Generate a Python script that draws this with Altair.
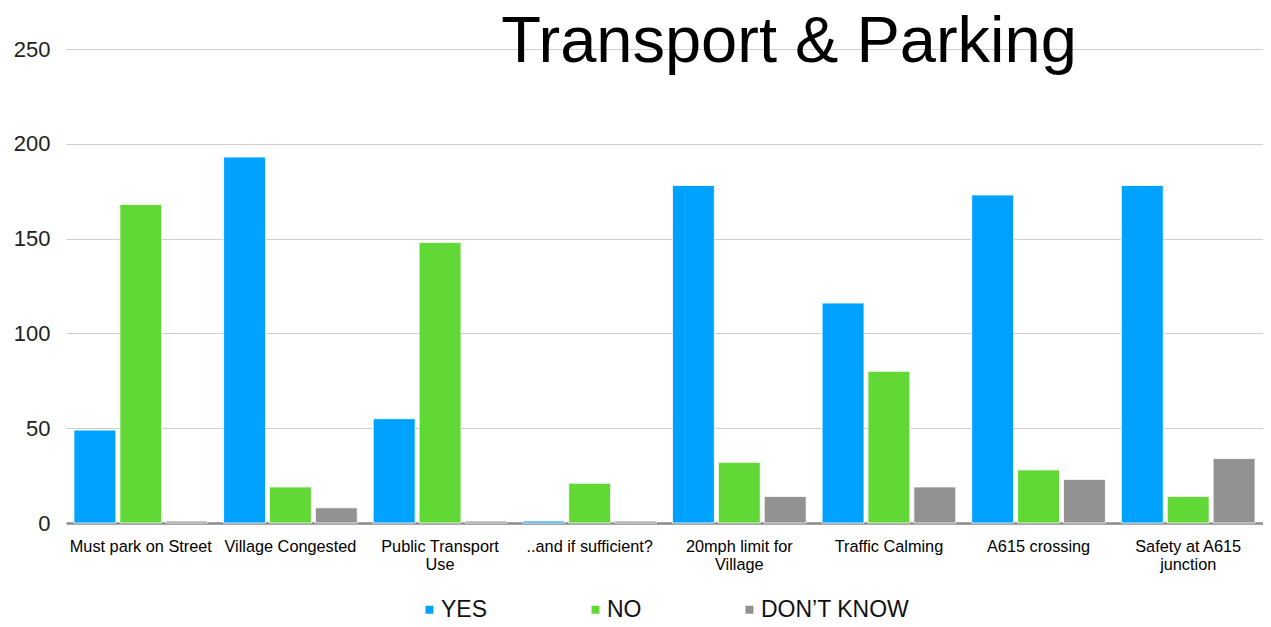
import altair as alt
import pandas as pd

categories = ["Must park on Street", "Village Congested", "Public Transport Use",
              "..and if sufficient?", "20mph limit for Village", "Traffic Calming",
              "A615 crossing", "Safety at A615 junction"]
series = ["YES", "NO", "DON\u2019T KNOW"]
yes_vals = [49, 193, 55, 1, 178, 116, 173, 178]
no_vals = [168, 19, 148, 21, 32, 80, 28, 14]
dk_vals = [1, 8, 1, 1, 14, 19, 23, 34]
colors = ["#00A2FF", "#62D836", "#929292"]
y_ticks = [0, 50, 100, 150, 200, 250]
title_text = "Transport & Parking"

rows = []
for i, c in enumerate(categories):
    for s, vals in zip(series, [yes_vals, no_vals, dk_vals]):
        rows.append({"category": c, "series": s, "value": vals[i]})
df = pd.DataFrame(rows)

label_map = {
    "Public Transport Use": ["Public Transport", "Use"],
    "20mph limit for Village": ["20mph limit for", "Village"],
    "Safety at A615 junction": ["Safety at A615", "junction"],
}
expr = "datum.label"
for k, v in label_map.items():
    expr = f"datum.label == '{k}' ? ['{v[0]}', '{v[1]}'] : (" + expr + ")"

FONT = "Liberation Sans"

bars = alt.Chart(df).mark_bar(stroke="white", strokeWidth=0.8).encode(
    x=alt.X("category:N", sort=categories, title=None,
            scale=alt.Scale(paddingInner=0, paddingOuter=0),
            axis=alt.Axis(labelAngle=0, ticks=False, labelFontSize=16.3, labelFont=FONT,
                          labelColor="#000000", labelPadding=15, labelLineHeight=18,
                          labelExpr=expr, domainColor="#8a8a8a", domainWidth=2.5,
                          labelLimit=200)),
    xOffset=alt.XOffset("series:N", sort=series,
                        scale=alt.Scale(paddingInner=0.087, paddingOuter=0.174)),
    y=alt.Y("value:Q", title=None,
            scale=alt.Scale(domain=[0, 250], nice=False),
            axis=alt.Axis(values=y_ticks, ticks=False, domain=False, labelFontSize=22,
                          labelFont=FONT, labelColor="#222222", labelPadding=16,
                          gridColor="#cfcfcf", gridWidth=1.2)),
    color=alt.Color("series:N", sort=series,
                    scale=alt.Scale(domain=series, range=colors),
                    legend=alt.Legend(title=None, orient="none", direction="horizontal",
                                      legendX=352, legendY=549, symbolType="square",
                                      symbolSize=64, symbolStrokeWidth=0,
                                      labelFontSize=23, labelFont=FONT,
                                      labelColor="#111111", labelOffset=0,
                                      columnPadding=96, padding=0)),
)

title = alt.Chart(pd.DataFrame({"t": [title_text]})).mark_text(
    font=FONT, fontSize=65, color="#000000", align="center", baseline="alphabetic"
).encode(text="t:N", x=alt.value(723), y=alt.value(13))

chart = alt.layer(bars, title).properties(
    width=1197, height=474,
    autosize=alt.AutoSizeParams(type="none"),
    padding={"left": 58, "top": 41, "right": 0, "bottom": 96},
).configure_view(stroke=None)

chart.save("out.html", embed_options={"renderer": "svg", "actions": False})
